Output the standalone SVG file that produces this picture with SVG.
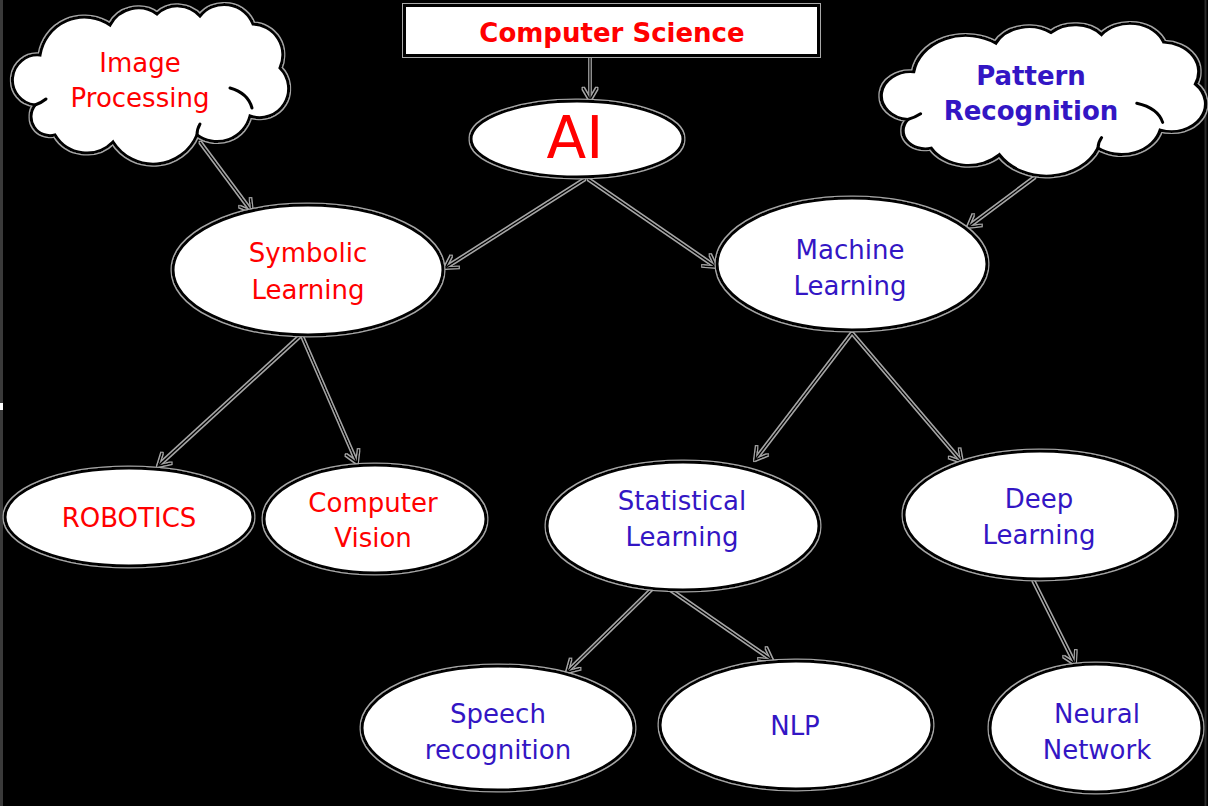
<svg xmlns="http://www.w3.org/2000/svg" width="1208" height="806" viewBox="0 0 1208 806">
<style>
.node{fill:#fff;stroke:#000;stroke-width:3;filter:url(#halo)}
.t{font-family:"DejaVu Sans",Verdana,sans-serif;font-size:26px;text-anchor:middle}
.b{font-weight:bold}
.red{fill:#f00}
.blue{fill:#3316c4}
.wire{fill:none;stroke:#000;stroke-width:1.7;filter:url(#halo)}
.inner{fill:none;stroke:#000;stroke-width:3;stroke-linecap:round}
</style>
<defs>
<filter id="halo" filterUnits="userSpaceOnUse" x="0" y="0" width="1208" height="806">
<feMorphology in="SourceAlpha" operator="dilate" radius="0.9" result="d"/>
<feFlood flood-color="#a8a8a8"/>
<feComposite in2="d" operator="in" result="h"/>
<feMerge><feMergeNode in="h"/><feMergeNode in="SourceGraphic"/></feMerge>
</filter>
<marker id="ah" markerWidth="20" markerHeight="20" refX="13" refY="9" orient="auto" markerUnits="userSpaceOnUse">
<path d="M1,2 L13,9 L1,16" fill="none" stroke="#000" stroke-width="1.7"/>
</marker>
<path id="cloud" d="M35,105 A25,25 0 0 1 40,55 A45,45 0 0 1 110,25 A32,32 0 0 1 157,14 A30,30 0 0 1 200,16 A31,31 0 0 1 253,24 A31,31 0 0 1 280,68 A29,29 0 0 1 250,116 A34,34 0 0 1 197,135 A47.5,47.5 0 0 1 113,142 A37,37 0 0 1 55,135 A19,19 0 0 1 35,105 Z"/>
</defs>
<rect x="0" y="0" width="1208" height="806" fill="#000"/>
<line x1="1.5" y1="0" x2="1.5" y2="806" stroke="#3a3a3a" stroke-width="3"/>
<line x1="1205.5" y1="0" x2="1205.5" y2="806" stroke="#2a2a2a" stroke-width="2"/>
<rect x="0" y="403" width="3" height="7" fill="#fff"/>

<g id="connectors" class="wire" marker-end="url(#ah)">
<line x1="590" y1="57" x2="590" y2="100"/>
<line x1="200" y1="142" x2="252" y2="212"/>
<line x1="585" y1="179" x2="445" y2="268"/>
<line x1="588" y1="179" x2="716" y2="267"/>
<line x1="1035" y1="177" x2="968" y2="227"/>
<line x1="300" y1="336" x2="158" y2="466"/>
<line x1="302" y1="336" x2="357" y2="463"/>
<line x1="852" y1="333" x2="755" y2="460"/>
<line x1="852" y1="333" x2="962" y2="462"/>
<line x1="657" y1="584" x2="567" y2="672"/>
<line x1="662" y1="584" x2="772" y2="660"/>
<line x1="1033" y1="580" x2="1075" y2="664"/>
</g>

<g id="computer-science">
<rect class="node" x="404.5" y="5.5" width="414" height="50"/>
<text class="t b red" x="612" y="42">Computer Science</text>
</g>
<g id="ai">
<ellipse class="node" cx="577" cy="139" rx="106" ry="38"/>
<text class="t red" x="575" y="158" style="font-size:58px">AI</text>
</g>
<g id="image-processing">
<use href="#cloud" class="node"/>
<path class="inner" d="M230,88 Q248,93 252,108 M197,135 Q197,129 200,124 M35,105 Q41,103 46,99"/>
<text class="t red" x="140" y="72">Image</text>
<text class="t red" x="140" y="107">Processing</text>
</g>
<g id="pattern-recognition">
<g transform="translate(883,22) scale(1.175,0.956) translate(-14,-3)">
<use href="#cloud" class="node" style="vector-effect:non-scaling-stroke"/>
<path class="inner" d="M230,88 Q248,93 252,108 M197,135 Q197,129 200,124 M35,105 Q41,103 46,99" style="vector-effect:non-scaling-stroke"/>
</g>
<text class="t b blue" x="1031" y="85">Pattern</text>
<text class="t b blue" x="1031" y="120">Recognition</text>
</g>
<g id="symbolic-learning">
<ellipse class="node" cx="308" cy="270" rx="135" ry="65"/>
<text class="t red" x="308" y="262">Symbolic</text>
<text class="t red" x="308" y="299">Learning</text>
</g>
<g id="machine-learning">
<ellipse class="node" cx="852" cy="264" rx="135" ry="66"/>
<text class="t blue" x="850" y="259">Machine</text>
<text class="t blue" x="850" y="295">Learning</text>
</g>
<g id="robotics">
<ellipse class="node" cx="129" cy="517" rx="124" ry="49"/>
<text class="t red" x="129" y="527">ROBOTICS</text>
</g>
<g id="computer-vision">
<ellipse class="node" cx="375" cy="519" rx="111" ry="54"/>
<text class="t red" x="373" y="512">Computer</text>
<text class="t red" x="373" y="547">Vision</text>
</g>
<g id="statistical-learning">
<ellipse class="node" cx="683" cy="526" rx="136" ry="64"/>
<text class="t blue" x="682" y="510">Statistical</text>
<text class="t blue" x="682" y="546">Learning</text>
</g>
<g id="deep-learning">
<ellipse class="node" cx="1040" cy="515" rx="136" ry="64"/>
<text class="t blue" x="1039" y="508">Deep</text>
<text class="t blue" x="1039" y="544">Learning</text>
</g>
<g id="speech-recognition">
<ellipse class="node" cx="498" cy="728" rx="136" ry="62"/>
<text class="t blue" x="498" y="723">Speech</text>
<text class="t blue" x="498" y="759">recognition</text>
</g>
<g id="nlp">
<ellipse class="node" cx="796" cy="725" rx="136" ry="64"/>
<text class="t blue" x="795" y="735">NLP</text>
</g>
<g id="neural-network">
<ellipse class="node" cx="1096" cy="728" rx="106" ry="64"/>
<text class="t blue" x="1097" y="723">Neural</text>
<text class="t blue" x="1097" y="759">Network</text>
</g>
</svg>
